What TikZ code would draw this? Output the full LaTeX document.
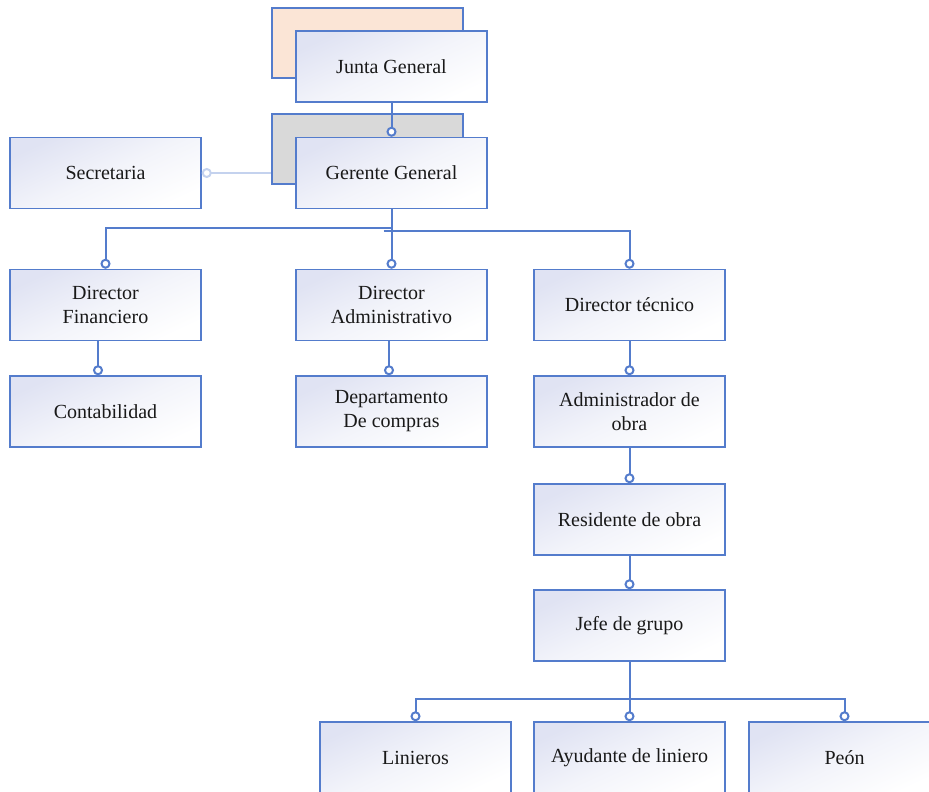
\documentclass[tikz,border=0pt]{standalone}
\usepackage{fontspec}
\setmainfont{Liberation Serif}
\usetikzlibrary{arrows.meta}
\definecolor{edgeblue}{RGB}{84,124,204}
\definecolor{paleblue}{RGB}{196,210,238}
\definecolor{lav}{RGB}{224,227,243}
\definecolor{peach}{RGB}{251,229,214}
\definecolor{shadegrey}{RGB}{217,217,217}
\definecolor{ink}{RGB}{25,25,25}
\tikzset{
  orgbox/.style={draw=edgeblue, line width=1.5pt, shading=axis, top color=lav,
    bottom color=white, middle color=white!60!lav, shading angle=25,
    minimum width=191pt, minimum height=71pt,
    inner sep=0pt, align=center, text=ink, font=\fontsize{20}{24}\selectfont},
  backbox/.style={draw=edgeblue, line width=1.5pt, minimum width=191pt,
    minimum height=70pt, inner sep=0pt},
  link/.style={draw=edgeblue, line width=2pt,
    -{Circle[open, length=10pt, width=10pt, fill=white]}},
  palelink/.style={draw=paleblue, line width=2pt,
    -{Circle[open, length=10pt, width=10pt, fill=white]}},
}
\begin{document}
\begin{tikzpicture}[x=1pt, y=-1pt]
\useasboundingbox (0,0) rectangle (929,792);
\clip (0,0) rectangle (929,792);

% side link to the secretary, running beneath the grey backing panel
\node[orgbox] (secr) at (105.5,173) {Secretaria};
\coordinate (gerw) at (296,173);
\draw[palelink] (gerw) -- (secr.east);

% backing panels behind the two top boxes
\node[backbox, fill=peach] (juntaback) at (367.5,43) {};
\node[backbox, fill=shadegrey] (gerback) at (367.5,149) {};

% boxes
\node[orgbox] (junta) at (391.5,66.5) {Junta General};
\node[orgbox] (ger) at (391.5,173) {Gerente General};
\node[orgbox] (dirfin) at (105.5,305) {Director\\Financiero};
\node[orgbox] (diradm) at (391.5,305) {Director\\Administrativo};
\node[orgbox] (dirtec) at (629.5,305) {Director técnico};
\node[orgbox] (conta) at (105.5,411.5) {Contabilidad};
\node[orgbox] (depto) at (391.5,411.5) {Departamento\\De compras};
\node[orgbox] (admin) at (629.5,411.5) {Administrador de\\obra};
\node[orgbox] (resid) at (629.5,519.5) {Residente de obra};
\node[orgbox] (jefe) at (629.5,625.5) {Jefe de grupo};
\node[orgbox] (lin) at (415.5,757.5) {Linieros};
\node[orgbox] (ayud) at (629.5,757.5) {Ayudante de liniero};
\node[orgbox] (peon) at (844.5,757.5) {Peón};

% connectors
\draw[link] (junta.south) -- (ger.north);
\draw[link] (ger.south) -- ++(0,19) -| (dirfin.north);
\draw[link] (ger.south) -- (diradm.north);
\draw[link] ([shift={(-8,22)}]ger.south) -| (dirtec.north);
\draw[link] ([xshift=-7.5pt]dirfin.south) -- ([xshift=-7.5pt]conta.north);
\draw[link] ([xshift=-2.5pt]diradm.south) -- ([xshift=-2.5pt]depto.north);
\draw[link] (dirtec.south) -- (admin.north);
\draw[link] (admin.south) -- (resid.north);
\draw[link] (resid.south) -- (jefe.north);
\draw[link] (jefe.south) -- ++(0,37) -| (lin.north);
\draw[link] (jefe.south) -- (ayud.north);
\draw[link] ([yshift=-37pt]jefe.south) -| (peon.north);
\end{tikzpicture}
\end{document}
